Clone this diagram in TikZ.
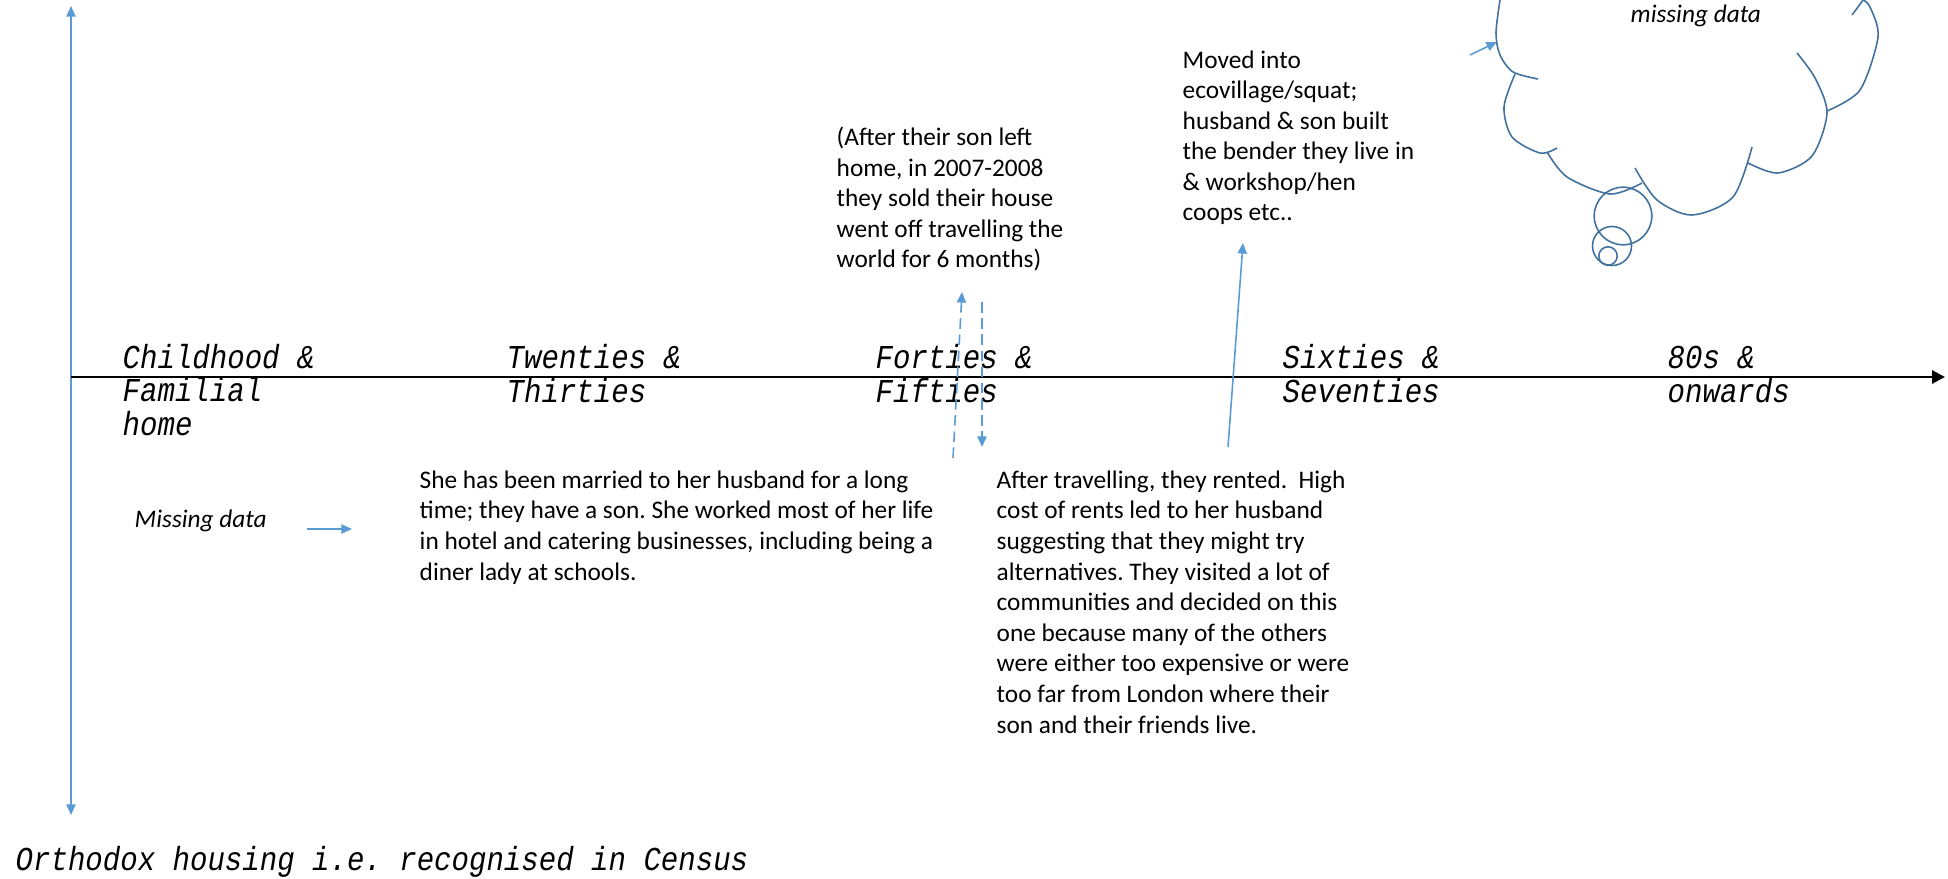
\documentclass[tikz,border=0pt]{standalone}
\usepackage{fontspec}
\setmainfont{Carlito}
\newfontfamily\typefont[FakeStretch=0.87]{Liberation Mono}
\usetikzlibrary{arrows.meta}
\definecolor{arrowblue}{HTML}{5B9BD5}
\definecolor{cloudblue}{HTML}{41719C}
\frenchspacing

\begin{document}
\begin{tikzpicture}[x=0.01cm, y=-0.01cm,
    era/.style={anchor=base west, align=left, inner sep=0pt,
      font=\typefont\itshape\fontsize{9.5}{9.4}\selectfont},
    story/.style={anchor=base west, align=left, inner sep=0pt,
      font=\fontsize{7.2}{8.7}\selectfont},
    bluearrow/.style={draw=arrowblue, line width=0.45pt,
      -{Triangle[length=3pt,width=2.6pt]}},
    dasharrow/.style={bluearrow, dash pattern=on 3pt off 1.6pt},
    cloudline/.style={draw=cloudblue, line width=0.45pt}]
  \useasboundingbox (0,0) rectangle (1948,879);

  % Axes
  \coordinate (origin) at (71,377);
  \coordinate (top) at (71,6);
  \coordinate (bottom) at (71,815);
  \coordinate (future) at (1945,377);
  \draw[bluearrow, {Triangle[length=3pt,width=2.6pt]}-{Triangle[length=3pt,width=2.6pt]}] (bottom) -- (top);
  \draw[line width=0.85pt, -{Triangle[length=3.7pt,width=3.7pt]}] (origin) -- (future);

  % Decades along the time line (placed by their last line)
  \foreach \x/\y/\id/\txt in {122/435/child/{Childhood \&\\Familial\\home},
      506/402/twenties/{Twenties \&\\Thirties}, 875/402/forties/{Forties \&\\Fifties},
      1282/402/sixties/{Sixties \&\\Seventies}, 1667/402/eighties/{80s \&\\onwards}}
    \node[era] (\id) at (\x,\y) {\txt};

  \node[era] (orthodox) at (15,870) {Orthodox housing i.e. recognised in Census};

  % Housing story (placed by their last line)
  \node[story, font=\fontsize{7.2}{8.7}\selectfont\itshape] (missing) at (134,527) {Missing data};
  \node[story] (married) at (419,580) {She has been married to her husband for a long\\
    time; they have a son. She worked most of her life\\
    in hotel and catering businesses, including being a\\
    diner lady at schools.};
  \node[story] (sold) at (836,268) {(After their son left\\home, in 2007-2008\\
    they sold their house\\went off travelling the\\world for 6 months)};
  \node[story] (rented) at (996,733) {After travelling, they rented.\ \ High\\
    cost of rents led to her husband\\suggesting that they might try\\
    alternatives. They visited a lot of\\communities and decided on this\\
    one because many of the others\\were either too expensive or were\\
    too far from London where their\\son and their friends live.};
  \node[story] (moved) at (1182,221) {Moved into\\ecovillage/squat;\\husband \& son built\\
    the bender they live in\\\& workshop/hen\\coops etc..};

  % Arrows
  \coordinate (md-a) at (307,529);
  \coordinate (md-b) at (352,529);
  \coordinate (up-a) at (953,458);
  \coordinate (up-b) at (962,292);
  \coordinate (dn-a) at (982,302);
  \coordinate (dn-b) at (982,447);
  \coordinate (mv-a) at (1228,447);
  \coordinate (mv-b) at (1243,243);
  \coordinate (cl-a) at (1470,55);
  \coordinate (cl-b) at (1497,42);
  \draw[bluearrow] (md-a) -- (md-b);
  \draw[dasharrow] (up-a) -- (up-b);
  \draw[dasharrow] (dn-a) -- (dn-b);
  \draw[bluearrow] (mv-a) -- (mv-b);
  \draw[bluearrow] (cl-a) -- (cl-b);

  % Thought cloud
  \draw[cloudline] plot[smooth] coordinates {(1500,0) (1496,33) (1500,55) (1513,72) (1538,79)};
  \draw[cloudline] plot[smooth] coordinates {(1515,74) (1504,107) (1512,137) (1540,153) (1557,148)};
  \draw[cloudline] plot[smooth] coordinates {(1547,152) (1567,177) (1610,194) (1642,183)};
  \draw[cloudline] plot[smooth] coordinates {(1635,168) (1657,200) (1692,215) (1733,197) (1752,147)};
  \draw[cloudline] plot[smooth] coordinates {(1748,163) (1778,173) (1812,156) (1827,113) (1815,78) (1797,53)};
  \draw[cloudline] plot[smooth] coordinates {(1827,111) (1860,90) (1878,37) (1870,7) (1863,0)};
  \draw[cloudline] plot[smooth] coordinates {(1852,15) (1858,7) (1863,0)};
  \foreach \cx/\cy/\r in {1623/216/0.288cm, 1612/246/0.195cm, 1608/256/0.092cm}
    \draw[cloudline] (\cx,\cy) circle[radius=\r];
  \node[story, font=\fontsize{7.2}{8.7}\selectfont\itshape] (cloudtext) at (1630,23) {missing data};
\end{tikzpicture}
\end{document}
